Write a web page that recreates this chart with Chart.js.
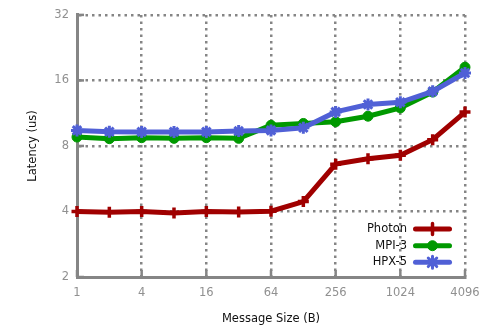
<!DOCTYPE html>
<html>
<head>
<meta charset="utf-8">
<script src="https://cdn.jsdelivr.net/npm/chart.js@4/dist/chart.umd.min.js"></script>
<style>
html, body { margin: 0; padding: 0; background: #fff; }
</style>
</head>
<body>
<canvas id="latChart" width="491" height="331"></canvas>
<script>
// message sizes (bytes) and latency (us) per series
const sizes = [1, 2, 4, 8, 16, 32, 64, 128, 256, 512, 1024, 2048, 4096];
const photon = [4.0, 3.97, 4.0, 3.94, 4.0, 3.98, 4.01, 4.44, 6.6, 6.98, 7.25, 8.55, 11.45];
const mpi3 = [8.79, 8.64, 8.73, 8.67, 8.73, 8.67, 9.95, 10.15, 10.33, 10.96, 11.96, 14.15, 18.4];
const hpx5 = [9.43, 9.3, 9.28, 9.28, 9.28, 9.36, 9.43, 9.7, 11.47, 12.4, 12.7, 14.25, 17.3];

const xTicks = [1, 4, 16, 64, 256, 1024, 4096];
const yTicks = [2, 4, 8, 16, 32];

const FONT = "'DejaVu Sans', sans-serif";
const GRID = '#858585';

function toPoints(vals) {
    return sizes.map((s, i) => ({ x: s, y: vals[i] }));
}

// legend inside the plot, text on the left of the sample
const legendBox = {
    id: 'legendBox',
    afterDatasetsDraw(chart) {
        const ctx = chart.ctx;
        const area = chart.chartArea;
        const rows = [48, 31.3, 14.7];
        chart.data.datasets.forEach((ds, i) => {
            const y = area.bottom - rows[i];
            ctx.save();
            ctx.fillStyle = '#111';
            ctx.font = '11.5px ' + FONT;
            ctx.textAlign = 'right';
            ctx.textBaseline = 'middle';
            ctx.fillText(ds.label, area.right - 58, y);
            ctx.strokeStyle = ds.borderColor;
            ctx.lineWidth = ds.borderWidth;
            ctx.lineCap = 'round';
            ctx.beginPath();
            ctx.moveTo(area.right - 49.5, y);
            ctx.lineTo(area.right - 15.5, y);
            ctx.stroke();
            if (Chart.helpers && Chart.helpers.drawPoint) {
                ctx.fillStyle = ds.pointBackgroundColor;
                ctx.strokeStyle = ds.pointBorderColor;
                ctx.lineWidth = ds.pointBorderWidth;
                Chart.helpers.drawPoint(ctx, {
                    pointStyle: ds.pointStyle,
                    radius: ds.pointRadius,
                    borderWidth: ds.pointBorderWidth,
                    rotation: 0
                }, area.right - 32.5, y);
            }
            ctx.restore();
        });
    }
};

// short inward tick marks on left and bottom axes
const innerTicks = {
    id: 'innerTicks',
    beforeDatasetsDraw(chart) {
        const ctx = chart.ctx;
        const area = chart.chartArea;
        const xs = chart.scales.x, ys = chart.scales.y;
        ctx.save();
        ctx.strokeStyle = GRID;
        ctx.lineWidth = 2.5;
        xTicks.forEach(v => {
            const px = xs.getPixelForValue(v);
            ctx.beginPath();
            ctx.moveTo(px, area.bottom);
            ctx.lineTo(px, area.bottom - 7);
            ctx.stroke();
        });
        yTicks.forEach(v => {
            const py = ys.getPixelForValue(v);
            ctx.beginPath();
            ctx.moveTo(area.left, py);
            ctx.lineTo(area.left + 7, py);
            ctx.stroke();
        });
        ctx.restore();
    }
};

function series(label, vals, color, style, radius, bw, order) {
    return {
        label: label,
        data: toPoints(vals),
        borderColor: color,
        backgroundColor: color,
        borderWidth: 5,
        pointStyle: style,
        pointRadius: radius,
        pointBorderWidth: bw,
        pointBackgroundColor: color,
        pointBorderColor: color,
        tension: 0,
        clip: false,
        order: order
    };
}

new Chart(document.getElementById('latChart'), {
    type: 'line',
    data: {
        datasets: [
            series('Photon', photon, '#a00000', 'cross', 5.5, 3.5, 3),
            series('MPI-3', mpi3, '#009900', 'circle', 5, 1, 2),
            series('HPX-5', hpx5, '#5060d6', 'star', 6, 3, 1)
        ]
    },
    options: {
        responsive: false,
        animation: false,
        devicePixelRatio: 1,
        layout: { padding: { left: 0, right: 26, top: 12, bottom: 0 } },
        plugins: {
            legend: { display: false },
            tooltip: { enabled: false }
        },
        scales: {
            x: {
                type: 'logarithmic',
                min: 1,
                max: 4096,
                afterBuildTicks: scale => { scale.ticks = xTicks.map(v => ({ value: v })); },
                afterFit: scale => { scale.height = 54; },
                ticks: {
                    autoSkip: false,
                    maxRotation: 0,
                    padding: 9,
                    color: '#909090',
                    font: { family: FONT, size: 11.5 },
                    callback: v => String(v)
                },
                grid: { color: GRID, lineWidth: 2.5, drawTicks: false },
                border: { display: true, color: GRID, width: 3, dash: [2.5, 4] },
                title: {
                    display: true,
                    text: 'Message Size (B)',
                    color: '#111',
                    font: { family: FONT, size: 11.5 },
                    padding: { top: 0, bottom: 5 }
                }
            },
            y: {
                type: 'logarithmic',
                min: 2,
                max: 32,
                afterBuildTicks: scale => { scale.ticks = yTicks.map(v => ({ value: v })); },
                afterFit: scale => { scale.width = 77; },
                ticks: {
                    padding: 8,
                    color: '#909090',
                    font: { family: FONT, size: 11.5 },
                    callback: v => String(v)
                },
                grid: { color: GRID, lineWidth: 2.5, drawTicks: false },
                border: { display: true, color: GRID, width: 3, dash: [2.5, 4] },
                title: {
                    display: true,
                    text: 'Latency (us)',
                    color: '#111',
                    font: { family: FONT, size: 11.5 },
                    padding: { top: 26, bottom: 0 }
                }
            }
        }
    },
    plugins: [innerTicks, legendBox]
});
</script>
</body>
</html>
